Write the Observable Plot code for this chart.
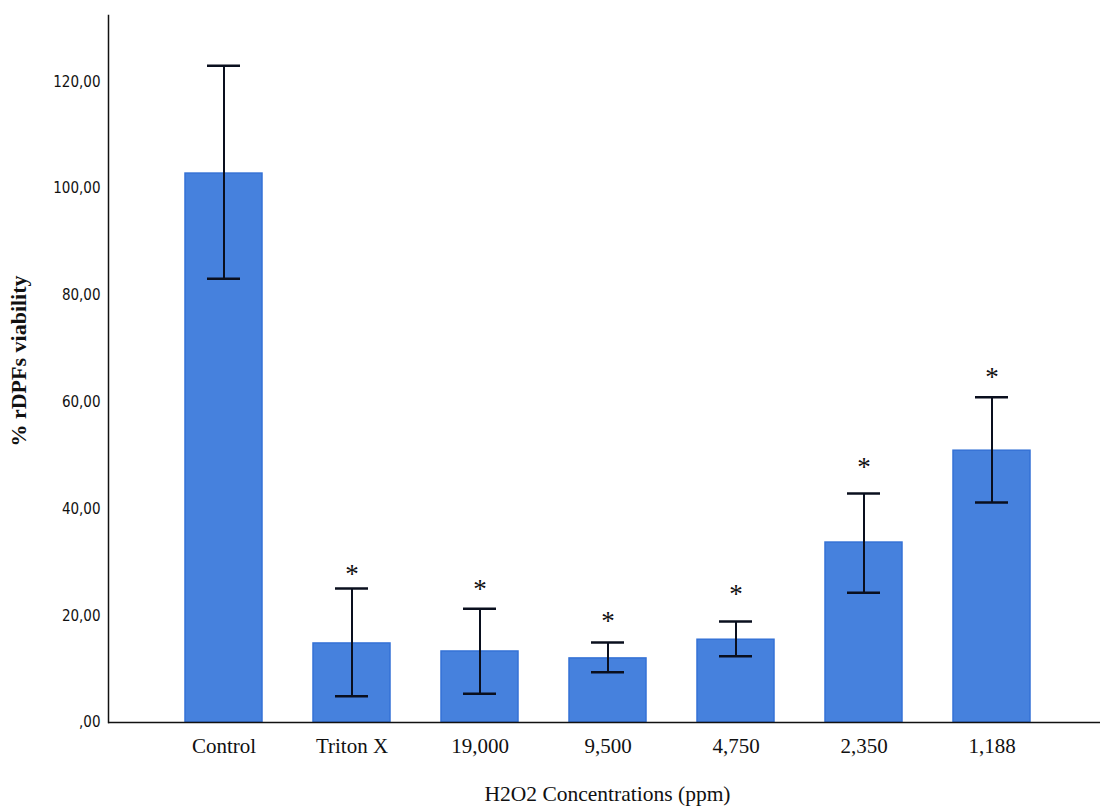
<!DOCTYPE html>
<html>
<head>
<meta charset="utf-8">
<script src="https://cdn.jsdelivr.net/npm/d3@7"></script>
<script src="https://cdn.jsdelivr.net/npm/@observablehq/plot@0.6"></script>
<style>
  html, body { margin: 0; padding: 0; background: #fff; }
  svg { display: block; }
</style>
</head>
<body>
<div id="chart"></div>
<script>
const categories = ["Control", "Triton X", "19,000", "9,500", "4,750", "2,350", "1,188"];
const means      = [102.8, 14.8, 13.3, 12.0, 15.5, 33.7, 50.9];
const errLow     = [83.1, 4.9, 5.4, 9.4, 12.4, 24.3, 41.2];
const errHigh    = [123.0, 25.1, 21.3, 15.0, 18.9, 42.9, 60.9];
const starY      = [null, 29.0, 26.2, 20.2, 25.3, 49.1, 65.9];
const yTicks     = [0, 20, 40, 60, 80, 100, 120];
const yTickLabels = [",00", "20,00", "40,00", "60,00", "80,00", "100,00", "120,00"];
const xTitle = "H2O2 Concentrations (ppm)";
const yTitle = "% rDPFs viability";

const data = categories.map((c, i) => ({cat: c, mean: means[i], lo: errLow[i], hi: errHigh[i], star: starY[i]}));
const stars = data.filter(d => d.star != null);

const sansNarrow = "'Liberation Sans Narrow', 'DejaVu Sans Condensed', 'Liberation Sans', sans-serif";
const serif = "'Liberation Serif', 'DejaVu Serif', serif";

const chart = Plot.plot({
  width: 1101,
  height: 812,
  marginLeft: 108,
  marginRight: 1,
  marginTop: 15,
  marginBottom: 90,
  style: {background: "#fff", color: "#111"},
  x: {domain: categories, range: [182.5, 1031.5], paddingInner: 0.4, paddingOuter: 0},
  y: {domain: [0, 132.4]},
  marks: [
    Plot.barY(data, {x: "cat", y: "mean", fill: "#4681dd", stroke: "#3572d6", strokeWidth: 1.5}),
    Plot.ruleX(data, {x: "cat", y1: "lo", y2: "hi", stroke: "#0a0f1e", strokeWidth: 2}),
    Plot.tickY(data, {x: "cat", y: "lo", stroke: "#0a0f1e", strokeWidth: 2.5, insetLeft: 22, insetRight: 22}),
    Plot.tickY(data, {x: "cat", y: "hi", stroke: "#0a0f1e", strokeWidth: 2.5, insetLeft: 22, insetRight: 22}),
    Plot.text(stars, {x: "cat", y: "star", text: () => "*", fontSize: 27, fontFamily: serif, fill: "#111", dy: 7}),
    Plot.frame({anchor: "left", stroke: "#111", strokeWidth: 1.5}),
    Plot.ruleY([0], {stroke: "#111", strokeWidth: 1.5}),
    Plot.axisY({ticks: yTicks, tickFormat: (d) => yTickLabels[yTicks.indexOf(d)], tickSize: 0, tickPadding: 8, label: null, fontSize: 15, fontFamily: sansNarrow}),
    Plot.axisX({tickSize: 0, tickPadding: 16, label: null, fontSize: 21, fontFamily: serif}),
    Plot.text([yTitle], {frameAnchor: "left", textAnchor: "middle", rotate: -90, dx: -90, dy: -8, fontSize: 22, fontWeight: "bold", fontFamily: serif, fill: "#111"}),
    Plot.text([xTitle], {frameAnchor: "bottom", dx: 3, dy: 78, fontSize: 21.5, fontFamily: serif, fill: "#111"})
  ]
});
document.getElementById("chart").appendChild(chart);
</script>
</body>
</html>
